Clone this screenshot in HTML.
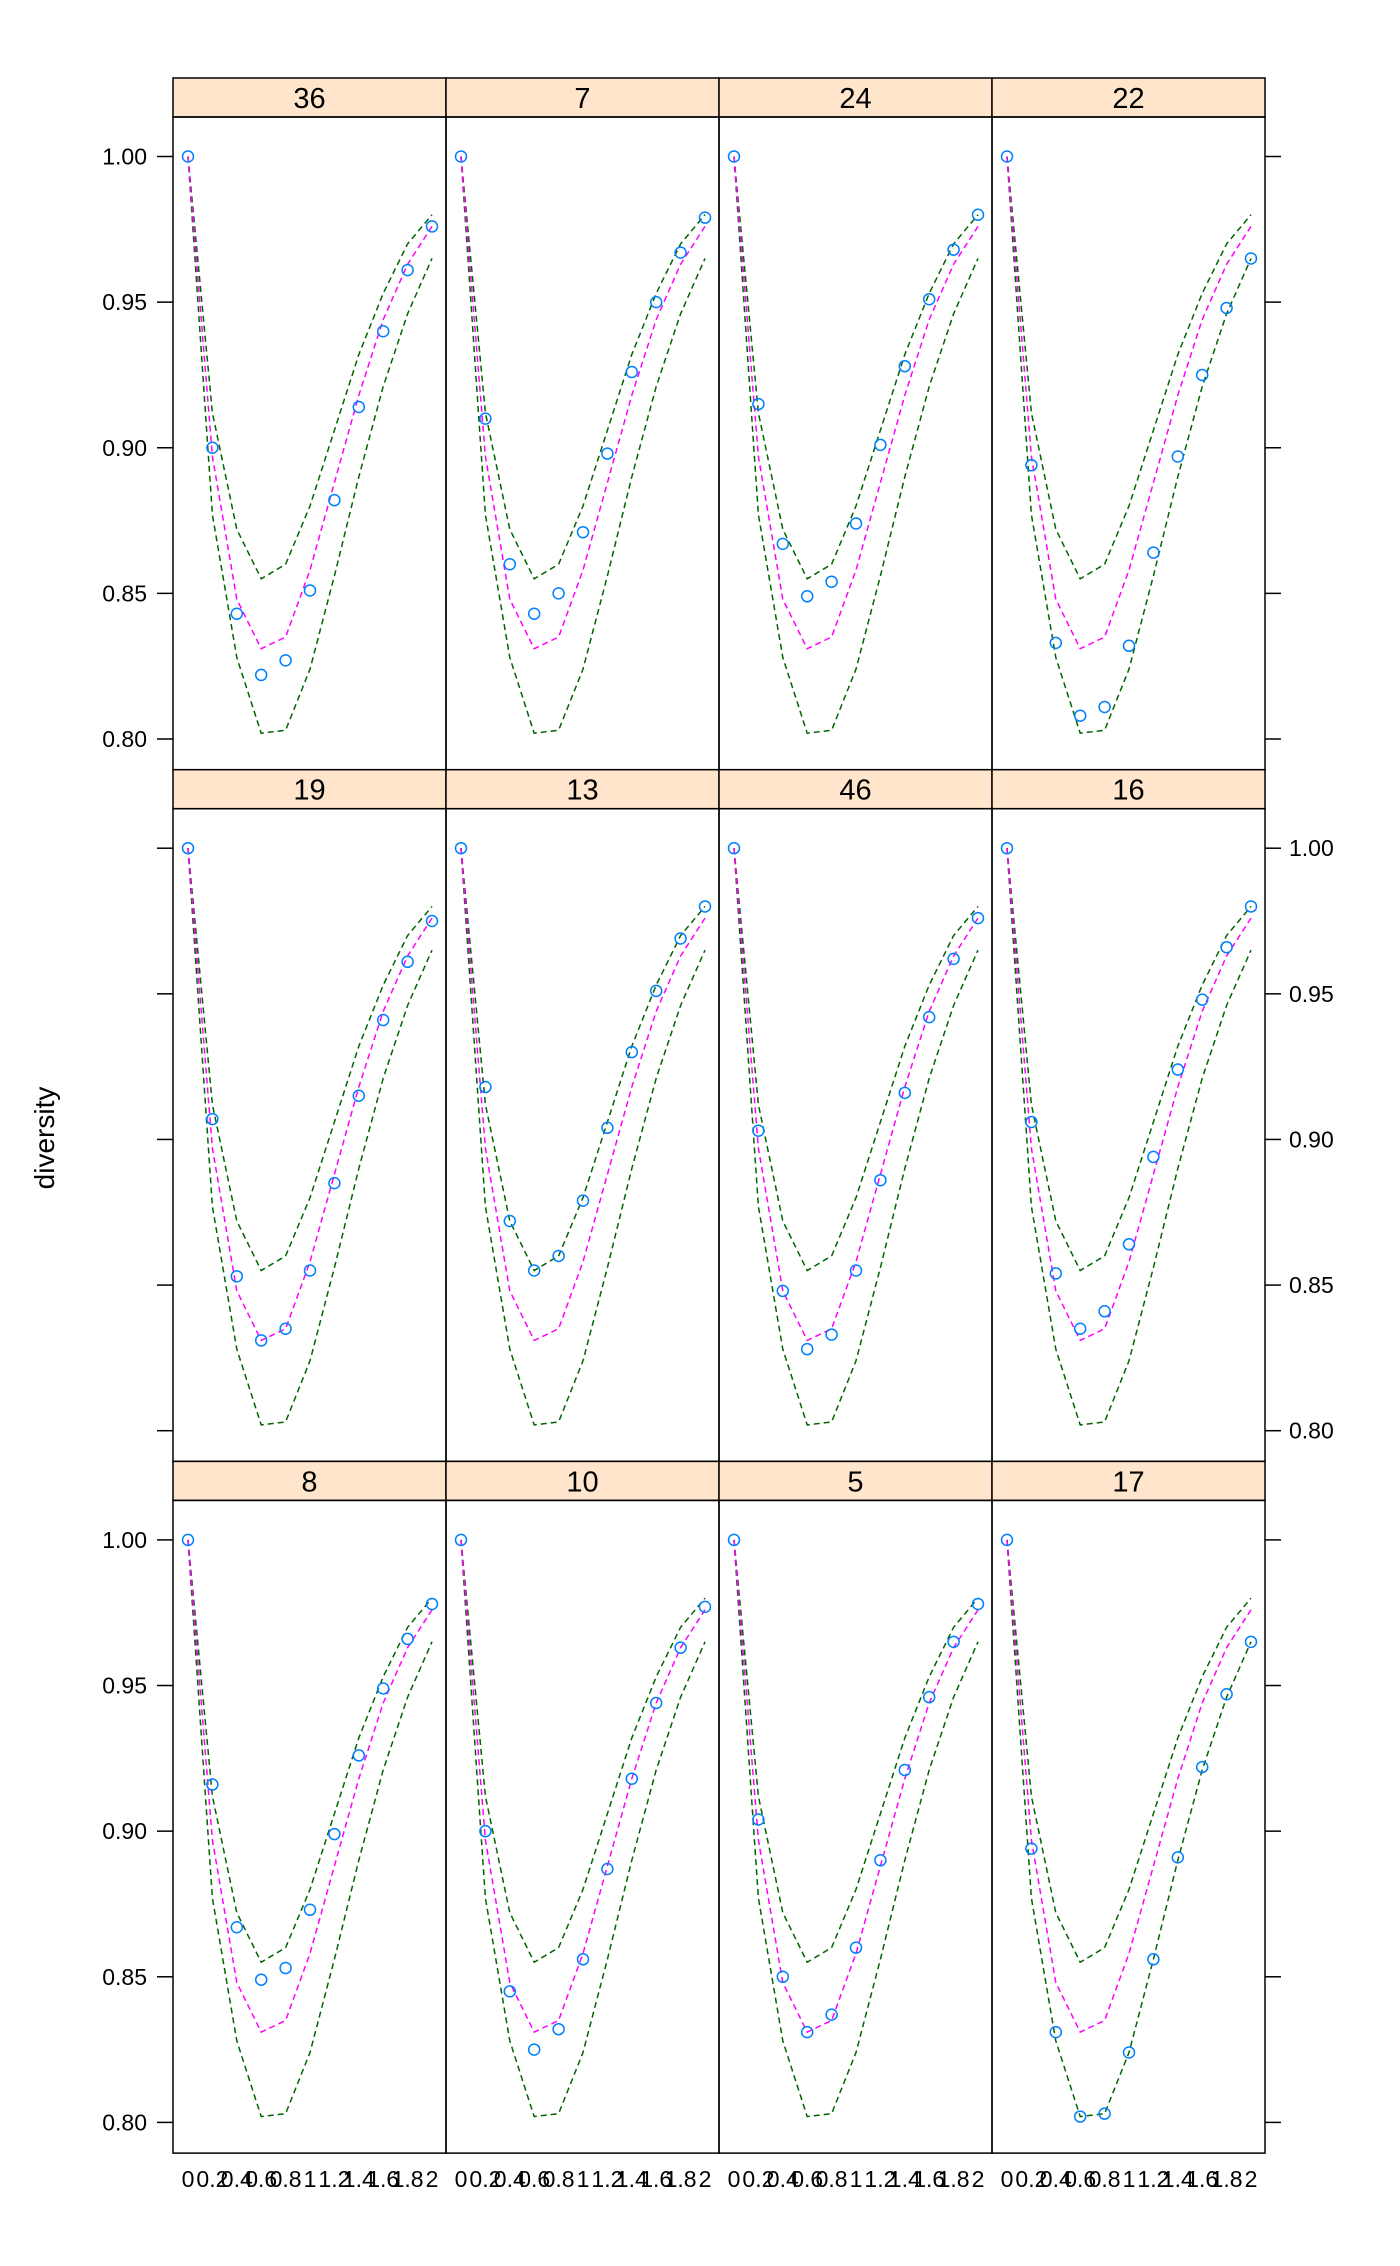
<!DOCTYPE html>
<html><head><meta charset="utf-8"><style>
body{margin:0;background:#fff}
svg{display:block;font-family:"Liberation Sans",sans-serif}
</style></head><body>
<svg id="c" width="1400" height="2266" xmlns="http://www.w3.org/2000/svg"></svg>
<script>
const xs=[0,0.2,0.4,0.6,0.8,1.0,1.2,1.4,1.6,1.8,2.0];
const xTickLabels=["0","0.2","0.4","0.6","0.8","1","1.2","1.4","1.6","1.8","2"];
const yTicks=[0.80,0.85,0.90,0.95,1.00];
const yTickLabels=["0.80","0.85","0.90","0.95","1.00"];
const median=[1.0,0.897,0.848,0.831,0.835,0.858,0.888,0.918,0.944,0.963,0.976];
const upper=[1.0,0.912,0.872,0.855,0.860,0.880,0.906,0.932,0.953,0.970,0.980];
const lower=[1.0,0.877,0.828,0.802,0.803,0.824,0.856,0.890,0.921,0.946,0.965];
const panelNames=["36","7","24","22","19","13","46","16","8","10","5","17"];
const p36=[1.0,.900,.843,.822,.827,.851,.882,.914,.940,.961,.976];
const p7=[1.0,.910,.860,.843,.850,.871,.898,.926,.950,.967,.979];
const p24=[1.0,.915,.867,.849,.854,.874,.901,.928,.951,.968,.980];
const p22=[1.0,.894,.833,.808,.811,.832,.864,.897,.925,.948,.965];
const p19=[1.0,.907,.853,.831,.835,.855,.885,.915,.941,.961,.975];
const p13=[1.0,.918,.872,.855,.860,.879,.904,.930,.951,.969,.980];
const p46=[1.0,.903,.848,.828,.833,.855,.886,.916,.942,.962,.976];
const p16=[1.0,.906,.854,.835,.841,.864,.894,.924,.948,.966,.980];
const p8=[1.0,.916,.867,.849,.853,.873,.899,.926,.949,.966,.978];
const p10=[1.0,.900,.845,.825,.832,.856,.887,.918,.944,.963,.977];
const p5=[1.0,.904,.850,.831,.837,.860,.890,.921,.946,.965,.978];
const p17=[1.0,.894,.831,.802,.803,.824,.856,.891,.922,.947,.965];
const panelPoints=[p36,p7,p24,p22,p19,p13,p46,p16,p8,p10,p5,p17];

const svg=document.getElementById('c');
const NS="http://www.w3.org/2000/svg";
function mk(t,a,parent){const e=document.createElementNS(NS,t);for(const k in a)e.setAttribute(k,a[k]);(parent||svg).appendChild(e);return e;}
const L=173,CW=273,T=78,RP=691.7,SH=39;
function xPos(col,v){return L+col*CW+15+v*122;}
function yPos(row,v){return T+row*RP+SH+39.5+(1.0-v)*2912.5;}
for(let i=0;i<12;i++){
  const row=Math.floor(i/4),col=i%4;
  const x0=L+col*CW,y0=T+row*RP;
  const g=mk('g',{});
  
  
  const s=mk('rect',{x:x0,y:y0,width:CW,height:SH,fill:'#ffe5cc',stroke:'#000','stroke-width':1.5},g);
  
  
  const st=mk('text',{x:x0+CW/2,y:y0+30,'text-anchor':'middle','font-size':29},g);st.textContent=panelNames[i];
  
  
  mk('rect',{x:x0,y:y0+SH,width:CW,height:RP-SH,fill:'none',stroke:'#000','stroke-width':1.5},g);
  const line=(arr,color,name)=>{const p=mk('polyline',{points:arr.map((v,j)=>xPos(col,xs[j])+','+yPos(row,v)).join(' '),fill:'none',stroke:color,'stroke-width':1.5,'stroke-dasharray':'6,4'},g);
    
    };
  line(upper,'#006400','upper-band');line(lower,'#006400','lower-band');line(median,'#ff00ff','median-line');
  panelPoints[i].forEach((v,j)=>{const c=mk('circle',{cx:xPos(col,xs[j]),cy:yPos(row,v),r:5.5,fill:'none',stroke:'#0080ff','stroke-width':1.5},g);
    
    });
  yTicks.forEach((t,k)=>{const y=yPos(row,t);
    if(col==0){mk('line',{x1:x0-16,x2:x0,y1:y,y2:y,stroke:'#000','stroke-width':1.5},g);
      if(row!=1){const tx=mk('text',{x:x0-26,y:y+8,'text-anchor':'end','font-size':23},g);tx.textContent=yTickLabels[k];
        
        }}
    if(col==3){mk('line',{x1:x0+CW,x2:x0+CW+16,y1:y,y2:y,stroke:'#000','stroke-width':1.5},g);
      if(row==1){const tx=mk('text',{x:x0+CW+24,y:y+8,'font-size':23},g);tx.textContent=yTickLabels[k];
        
        }}
  });
  if(row==2){xs.forEach((v,j)=>{const tx=mk('text',{x:xPos(col,v),y:2187,'text-anchor':'middle','font-size':23},g);tx.textContent=xTickLabels[j];
    
    });}
}
const yl=mk('text',{x:0,y:0,transform:'translate(54,1138) rotate(-90)','text-anchor':'middle','font-size':28});
yl.textContent='diversity';


</script>
</body></html>
